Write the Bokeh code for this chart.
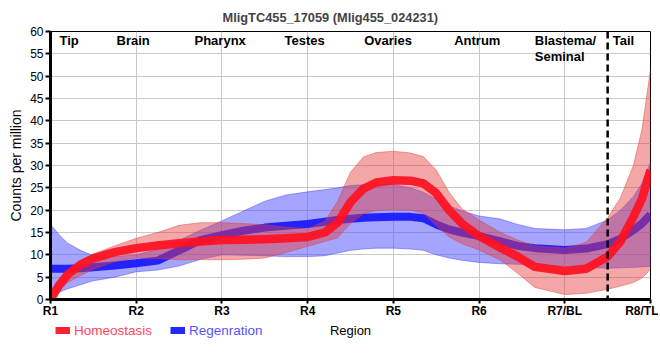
from bokeh.plotting import figure
from bokeh.models import Range1d, FixedTicker, Span, Legend, LegendItem, ColumnDataSource
from bokeh.core.properties import value
from bokeh.embed import file_html
from bokeh.resources import INLINE

# ---------------- data ----------------
title_text = "MligTC455_17059 (Mlig455_024231)"
x_axis_label = "Region"
y_axis_label = "Counts per million"
series_names = ["Homeostasis", "Regenration"]
tick_pos = [1, 2, 3, 4, 5, 6, 7, 8]
tick_labels = ["R1", "R2", "R3", "R4", "R5", "R6", "R7/BL", "R8/TL"]
region_names = ["Tip", "Brain", "Pharynx", "Testes", "Ovaries", "Antrum", "Blastema/\nSeminal", "Tail"]
region_x = [1.105, 1.77, 2.68, 3.73, 4.66, 5.71, 6.65, 7.56]
boundary_x = 7.5

x = [1.0, 1.1, 1.2, 1.35, 1.5, 1.75, 2.0, 2.25, 2.5, 2.75, 3.0, 3.25, 3.5, 3.75, 4.0,
     4.2, 4.35, 4.5, 4.65, 4.8, 5.0, 5.2, 5.35, 5.5, 5.65, 5.8, 6.0, 6.25, 6.45, 6.65,
     7.0, 7.25, 7.5, 7.65, 7.8, 7.9, 8.0]

homeo_mean = [0.0, 3.2, 5.6, 7.8, 9.2, 10.6, 11.5, 12.1, 12.6, 13.0, 13.3, 13.4, 13.5, 13.7, 14.0,
              15.0, 17.2, 21.8, 24.8, 26.2, 26.7, 26.6, 26.0, 23.8, 20.0, 17.0, 14.2, 11.6, 9.6, 7.3,
              6.4, 6.9, 9.6, 13.0, 18.5, 22.5, 29.0]
homeo_upper = [0.3, 3.8, 6.3, 8.6, 10.2, 12.0, 13.7, 15.0, 16.6, 17.2, 17.2, 17.0, 16.7, 16.2, 15.8,
               17.5, 22.0, 28.5, 31.9, 32.9, 33.2, 32.8, 32.0, 29.0, 24.0, 20.3, 17.8, 15.0, 13.3, 12.0,
               11.5, 12.8, 18.3, 22.8, 30.0, 38.0, 51.5]
homeo_lower = [0.0, 1.8, 3.8, 5.4, 6.8, 8.5, 9.3, 9.2, 8.9, 8.9, 8.9, 9.0, 9.3, 10.5, 11.9,
               13.0, 13.8, 17.0, 19.2, 19.9, 20.1, 20.0, 19.3, 16.5, 14.0, 12.5, 11.1, 8.8, 5.9, 2.7,
               1.1, 1.4, 2.3, 3.0, 3.8, 4.8, 6.7]

regen_mean = [6.9, 6.9, 6.9, 7.0, 7.2, 7.6, 8.1, 8.7, 11.0, 13.3, 14.4, 15.4, 16.1, 16.5, 16.9,
              17.4, 17.8, 18.1, 18.3, 18.4, 18.5, 18.5, 18.2, 16.8, 15.7, 15.0, 14.2, 13.0, 12.0, 11.5,
              11.1, 11.4, 12.4, 13.6, 15.5, 17.0, 19.0]
regen_upper = [16.8, 14.5, 12.6, 11.0, 9.8, 9.6, 10.0, 11.2, 13.2, 15.5, 17.6, 19.8, 22.0, 23.4, 24.1,
               24.6, 25.0, 25.5, 25.7, 25.8, 25.7, 25.0, 24.0, 22.5, 21.0, 19.8, 18.7, 18.0, 16.8, 15.9,
               15.6, 15.9, 17.8, 20.0, 23.0, 26.0, 30.7]
regen_lower = [0.5, 1.6, 2.4, 3.3, 4.2, 5.0, 6.2, 6.6, 7.5, 9.0, 10.0, 9.9, 9.8, 9.6, 9.6,
               9.8, 10.4, 11.0, 11.3, 11.5, 11.5, 11.3, 11.0, 10.0, 9.3, 8.8, 8.3, 8.0, 7.9, 7.8,
               7.4, 7.2, 7.0, 7.1, 7.2, 7.3, 7.4]

FONT = value("Liberation Sans")
RED_LINE, RED_BAND, RED_TEXT = "#ff1020", "#e43c3c", "#ff4466"
BLUE_LINE, BLUE_BAND, BLUE_TEXT = "#1a1aff", "#4c4cff", "#5555ff"

src = ColumnDataSource(dict(x=x, hm=homeo_mean, hu=homeo_upper, hl=homeo_lower,
                            rm=regen_mean, ru=regen_upper, rl=regen_lower))

p = figure(width=658, height=320, output_backend="svg", toolbar_location=None,
           x_range=Range1d(1, 8), y_range=Range1d(0, 60),
           min_border_left=50, min_border_right=8, min_border_top=30, min_border_bottom=20,
           title=title_text)
p.background_fill_color = "white"
p.border_fill_color = "white"

p.title.text_font = "Liberation Sans"
p.title.text_font_size = "12.8px"
p.title.text_font_style = "bold"
p.title.align = "left"
p.title.offset = 172
p.title.standoff = 14

p.outline_line_color = "black"
p.outline_line_width = 1

# axes
p.xaxis.ticker = FixedTicker(ticks=tick_pos)
p.xaxis.major_label_overrides = {t: l for t, l in zip(tick_pos, tick_labels)}
p.yaxis.ticker = FixedTicker(ticks=list(range(0, 61, 5)))
p.xgrid.ticker = FixedTicker(ticks=tick_pos)
p.ygrid.ticker = FixedTicker(ticks=list(range(0, 61, 5)))
for g in (p.xgrid, p.ygrid):
    g.grid_line_color = "#c8c8c8"
    g.grid_line_width = 1

for ax in (p.xaxis, p.yaxis):
    ax.axis_line_width = 3
    ax.axis_line_color = "black"
    ax.major_tick_line_width = 2
    ax.major_tick_line_color = "black"
    ax.major_tick_in = 0
    ax.major_tick_out = 5
    ax.minor_tick_line_color = None
    ax.major_label_text_font = "Liberation Sans"
    ax.major_label_text_font_size = "12px"
    ax.major_label_text_color = "black"
    ax.axis_label_text_font = "Liberation Sans"
    ax.axis_label_text_font_size = "14px"
    ax.axis_label_text_font_style = "normal"
    ax.axis_label_text_color = "black"
p.xaxis.major_label_text_font_style = "bold"
p.xaxis.major_tick_out = 4
p.xaxis.major_label_standoff = 0
p.yaxis.major_label_standoff = 2
p.yaxis.axis_label = y_axis_label
p.yaxis.axis_label_standoff = 3

# bands and lines
p.varea(x="x", y1="rl", y2="ru", source=src, fill_color=BLUE_BAND, fill_alpha=0.5)
p.line(x="x", y="ru", source=src, line_color=BLUE_BAND, line_alpha=0.5, line_width=1)
p.line(x="x", y="rl", source=src, line_color=BLUE_BAND, line_alpha=0.5, line_width=1)
p.line(x="x", y="rm", source=src, line_color=BLUE_LINE, line_alpha=0.95,
       line_width=8, line_join="round")

p.varea(x="x", y1="hl", y2="hu", source=src, fill_color=RED_BAND, fill_alpha=0.45)
p.line(x="x", y="hu", source=src, line_color=RED_BAND, line_alpha=0.45, line_width=1)
p.line(x="x", y="hl", source=src, line_color=RED_BAND, line_alpha=0.45, line_width=1)
p.line(x="x", y="hm", source=src, line_color=RED_LINE, line_alpha=0.92,
       line_width=8.5, line_join="round")

p.add_layout(Span(location=boundary_x, dimension="height", line_color="black",
                  line_width=2.5, line_dash="7 4"))

p.text(x=region_x, y=[59.7] * len(region_x), text=region_names, text_font=FONT,
       text_font_size="13px", text_font_style="bold", text_color="black",
       text_align="left", text_baseline="top", text_line_height=1.1)

# ---------------- legend strip with the x-axis title ----------------
q = figure(width=658, height=36, output_backend="svg", toolbar_location=None,
           x_range=Range1d(0, 600), y_range=Range1d(0, 36),
           x_axis_location=None, y_axis_location=None,
           min_border_left=50, min_border_right=8, min_border_top=0, min_border_bottom=0)
q.background_fill_color = "white"
q.border_fill_color = "white"
q.grid.visible = False
q.outline_line_color = None

h_dummy = q.line(x=[-50, -40], y=[-50, -40], line_color=RED_LINE, line_alpha=0.92, line_width=8)
r_dummy = q.line(x=[-50, -40], y=[-50, -40], line_color=BLUE_LINE, line_alpha=0.95, line_width=8)

common = dict(orientation="horizontal", label_text_font="Liberation Sans",
              label_text_font_size="13.5px", border_line_color=None,
              background_fill_alpha=0, padding=0, margin=0, glyph_width=15,
              glyph_height=7, label_standoff=4, spacing=0, label_height=16)
leg1 = Legend(items=[LegendItem(label=series_names[0], renderers=[h_dummy])],
              location=(5, 18), label_text_color=RED_TEXT, **common)
leg2 = Legend(items=[LegendItem(label=series_names[1], renderers=[r_dummy])],
              location=(120, 18), label_text_color=BLUE_TEXT, **common)
q.add_layout(leg1)
q.add_layout(leg2)

q.text(x=[300], y=[26], text=[x_axis_label], text_font=FONT, text_font_size="13px",
       text_color="black", text_align="center", text_baseline="middle")

open("out.html", "w").write(file_html([p, q], INLINE))
